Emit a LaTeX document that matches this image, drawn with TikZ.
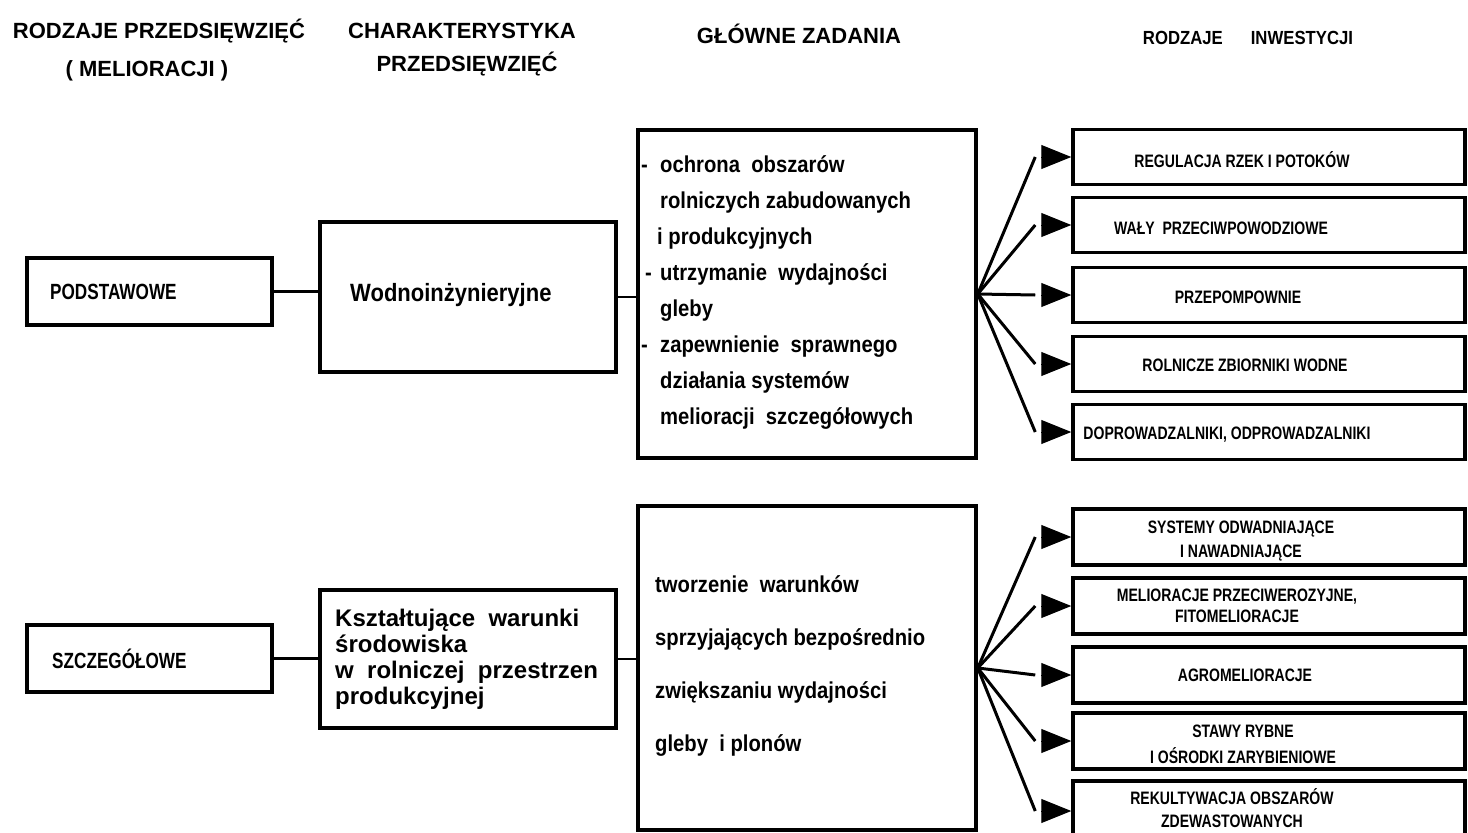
\documentclass[tikz,border=0pt]{standalone}
\usepackage{fontspec}
\setmainfont{Liberation Sans}
\newfontfamily\condf[FakeStretch=0.88]{Liberation Sans}
\newfontfamily\narrowf[FakeStretch=0.78]{Liberation Sans}
\usetikzlibrary{arrows.meta}
\begin{document}
\begin{tikzpicture}[x=1pt,y=-1pt,
  box/.style={draw, line width=3.5pt, inner sep=0pt},
  link/.style={line width=2.5pt},
  fan/.style={line width=3pt},
  tip/.style={line width=1pt,-{Triangle[length=30pt,width=24pt]}},
  head/.style={font=\bfseries\fontsize{22}{26}\selectfont, inner sep=0pt},
  headb/.style={font=\condf\bfseries\fontsize{19}{24}\selectfont, inner sep=0pt},
  lab/.style={font=\narrowf\bfseries\fontsize{18}{24}\selectfont, align=center, inner sep=0pt},
  kind/.style={font=\narrowf\bfseries\fontsize{22}{26}\selectfont, inner sep=0pt, anchor=west},
  maintext/.style={font=\condf\bfseries\fontsize{23}{36}\selectfont, align=left, inner sep=0pt, anchor=west},
  chartext/.style={font=\bfseries\fontsize{24}{26}\selectfont, align=left, inner sep=0pt, anchor=west},
]
\useasboundingbox (0,0) rectangle (1468,833);
\clip (0,0) rectangle (1468,833);

% headers
\node[head] (h1) at (159,31) {RODZAJE PRZEDSIĘWZIĘĆ};
\node[head] (h1b) at (147,71) {( MELIORACJI )};
\node[head] (h2) at (462,31) {CHARAKTERYSTYKA};
\node[head] (h2b) at (467,64) {PRZEDSIĘWZIĘĆ};
\node[head] (h3) at (799,34) {GŁÓWNE ZADANIA};
\node[headb] (h4) at (1248,38) {RODZAJE\hspace{28pt}INWESTYCJI};

% upper row
\node[box, minimum width=245pt, minimum height=67pt] (pod) at (149.5,291.5) {};
\node[kind] (podt) at (50,292) {PODSTAWOWE};
\node[box, minimum width=296pt, minimum height=150pt] (wod) at (468,297) {};
\node[font=\condf\bfseries\fontsize{25}{28}\selectfont, inner sep=0pt, anchor=west] (wodt) at (350,295) {Wodnoinżynieryjne};
\node[box, minimum width=338pt, minimum height=328pt] (gz1) at (807,294) {};
\node[maintext] (gz1t) at (641,292) {%
\makebox[19pt][l]{-}ochrona\ \ obszarów\\
\hspace*{19pt}rolniczych zabudowanych\\
\hspace*{16pt}i produkcyjnych\\
\makebox[19pt][l]{\,-}utrzymanie\ \ wydajności\\
\hspace*{19pt}gleby\\
\makebox[19pt][l]{-}zapewnienie\ \ sprawnego\\
\hspace*{19pt}działania systemów\\
\hspace*{19pt}melioracji\ \ szczegółowych};

\node[box, minimum width=392pt, minimum height=55pt] (r1) at (1269,157) {};
\node[box, minimum width=392pt, minimum height=55pt] (r2) at (1269,225) {};
\node[box, minimum width=392pt, minimum height=55pt] (r3) at (1269,295) {};
\node[box, minimum width=392pt, minimum height=55pt] (r4) at (1269,364) {};
\node[box, minimum width=392pt, minimum height=55pt] (r5) at (1269,432) {};
\node[lab] (r1t) at (1242,160) {REGULACJA RZEK I POTOKÓW};
\node[lab] (r2t) at (1221,228) {WAŁY\ \ PRZECIWPOWODZIOWE};
\node[lab] (r3t) at (1238,297) {PRZEPOMPOWNIE};
\node[lab] (r4t) at (1245,365) {ROLNICZE ZBIORNIKI WODNE};
\node[lab] (r5t) at (1227,435) {DOPROWADZALNIKI, ODPROWADZALNIKI};

% lower row
\node[box, minimum width=245pt, minimum height=67pt] (szc) at (149.5,658.5) {};
\node[kind] (szct) at (52,659) {SZCZEGÓŁOWE};
\node[box, minimum width=296pt, minimum height=138pt] (ksz) at (468,659) {};
\node[chartext] (kszt) at (335,659) {%
Kształtujące\ \ warunki\\
środowiska\\
w\ \ rolniczej\ \ przestrzen\\
produkcyjnej};
\node[box, minimum width=338pt, minimum height=324pt] (gz2) at (807,668) {};
\node[maintext, font=\condf\bfseries\fontsize{23}{53}\selectfont] (gz2t) at (655,666) {%
tworzenie\ \ warunków\\
sprzyjających bezpośrednio\\
zwiększaniu wydajności\\
gleby\ \ i plonów};

\node[box, minimum width=392pt, minimum height=56pt] (s1) at (1269,537) {};
\node[box, minimum width=392pt, minimum height=56pt] (s2) at (1269,606) {};
\node[box, minimum width=392pt, minimum height=56pt] (s3) at (1269,675) {};
\node[box, minimum width=392pt, minimum height=56pt] (s4) at (1269,741) {};
\node[box, minimum width=392pt, minimum height=60pt] (s5) at (1269,811) {};
\node[lab] (s1t) at (1241,541) {SYSTEMY ODWADNIAJĄCE\\I NAWADNIAJĄCE};
\node[lab, font=\narrowf\bfseries\fontsize{18}{21}\selectfont] (s2t) at (1237,606) {MELIORACJE PRZECIWEROZYJNE,\\FITOMELIORACJE};
\node[lab] (s3t) at (1245,675) {AGROMELIORACJE};
\node[lab, font=\narrowf\bfseries\fontsize{18}{26}\selectfont] (s4t) at (1243,744) {STAWY RYBNE\\I OŚRODKI ZARYBIENIOWE};
\node[lab, font=\narrowf\bfseries\fontsize{18}{23}\selectfont] (s5t) at (1232,808) {REKULTYWACJA OBSZARÓW\\ZDEWASTOWANYCH};

% connectors
\draw[link] (pod.east) -- (pod.east -| wod.west);
\draw[link] (wod.east) -- (wod.east -| gz1.west);
\draw[link] (szc.east) -- (szc.east -| ksz.west);
\draw[link] (ksz.east) -- (ksz.east -| gz2.west);

\foreach \r in {r1,r2,r3,r4,r5}{
  \draw[fan] (gz1.east) -- ([xshift=-36pt]\r.west);
  \draw[tip] ([xshift=-30pt]\r.west) -- (\r.west);
}
\foreach \s in {s1,s2,s3,s4,s5}{
  \draw[fan] (gz2.east) -- ([xshift=-36pt]\s.west);
  \draw[tip] ([xshift=-30pt]\s.west) -- (\s.west);
}
\end{tikzpicture}
\end{document}
